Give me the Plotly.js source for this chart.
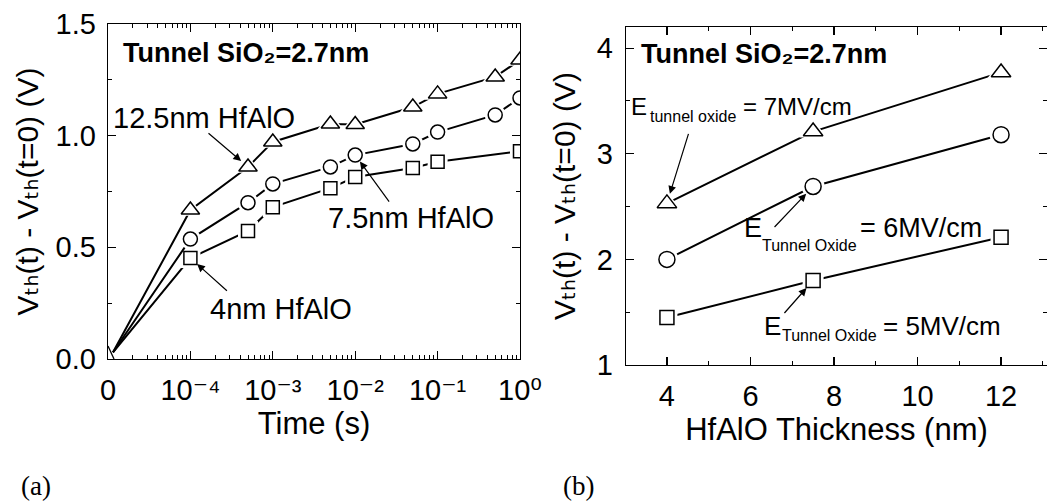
<!DOCTYPE html>
<html><head><meta charset="utf-8">
<script src="https://cdn.plot.ly/plotly-3.0.1.min.js"></script>
<style>html,body{margin:0;padding:0;background:#fff;}#chart{width:1047px;height:503px;}</style>
</head><body><div id="chart"></div>
<script>
// ---------- Panel (a): Vth shift vs time ----------
const timeS   = [0, 1e-4, 5e-4, 1e-3, 5e-3, 1e-2, 5e-2, 1e-1, 5e-1, 1];
const dVth125 = [0.03, 0.667, 0.86, 0.972, 1.052, 1.05, 1.128, 1.187, 1.263, 1.339];
const dVth75  = [0.03, 0.537, 0.70, 0.784, 0.86, 0.913, 0.963, 1.016, 1.093, 1.169];
const time4   = [0, 1e-4, 5e-4, 1e-3, 5e-3, 1e-2, 5e-2, 1e-1, 1];
const dVth4   = [0.03, 0.452, 0.573, 0.68, 0.765, 0.815, 0.855, 0.883, 0.93];
const timeTicks     = [0, 1e-4, 1e-3, 1e-2, 1e-1, 1];
const timeTickText  = ['0', '10\u207B\u2074', '10\u207B\u00B3', '10\u207B\u00B2', '10\u207B\u00B9', '10\u2070'];
// ---------- Panel (b): Vth shift vs HfAlO thickness ----------
const thickness = [4, 7.5, 12];
const dVthE7 = [2.53, 3.21, 3.77];
const dVthE6 = [2.0, 2.69, 3.18];
const dVthE5 = [1.45, 1.80, 2.21];

// t = 0 is drawn at the left end of the (broken) log axis
const T0_TICK = 1e-5, T0_POINT = 1.15e-5;
const toAxis = t => (t === 0 ? T0_POINT : t);
const toTick = t => (t === 0 ? T0_TICK : t);

const W = 1047, H = 503;
const px = v => v / W, py = v => 1 - v / H;
const FONT = 'Liberation Sans, Arial, Helvetica, DejaVu Sans, sans-serif';
const SERIF = 'Liberation Serif, Times New Roman, serif';
const VTH_TITLE = 'V\u209C\u2095(t) - V\u209C\u2095(t=0) (V)';
const BOX_TITLE = '<b>Tunnel SiO\u2082=2.7nm</b>';

function series(x, y, symbol, size, xa, ya, skipFirst) {
  const mx = skipFirst ? x.slice(1) : x, my = skipFirst ? y.slice(1) : y;
  return [
    {x: x, y: y, xaxis: xa, yaxis: ya, mode: 'lines', line: {color: '#000', width: 2}, hoverinfo: 'skip'},
    {x: mx, y: my, xaxis: xa, yaxis: ya, mode: 'markers', hoverinfo: 'skip',
     marker: {symbol: symbol, size: size + 7, color: '#fff', line: {width: 0}}},
    {x: mx, y: my, xaxis: xa, yaxis: ya, mode: 'markers',
     marker: {symbol: symbol, size: size, color: '#fff', line: {color: '#000', width: 1.5}}}
  ];
}

const tA = timeS.map(toAxis), t4A = time4.map(toAxis);
const data = [].concat(
  series(t4A, dVth4, 'square', 13, 'x', 'y', true),
  series(tA, dVth75, 'circle', 14, 'x', 'y', true),
  series(tA, dVth125, 'triangle-up', 16, 'x', 'y', true),
  series(thickness, dVthE5, 'square', 14, 'x2', 'y2', false),
  series(thickness, dVthE6, 'circle', 16, 'x2', 'y2', false),
  series(thickness, dVthE7, 'triangle-up', 17, 'x2', 'y2', false)
);

// minor tick positions of the log axis (2..9 in each decade)
const minorLog = [];
for (let e = -5; e < 0; e++) for (let d = 2; d <= 9; d++) minorLog.push(d * Math.pow(10, e));

const tickFont = {family: FONT, size: 29, color: '#000'};
const axBase = {showline: true, linecolor: '#000', linewidth: 1.3, mirror: 'ticks', ticks: 'inside',
  tickcolor: '#000', tickwidth: 1.2, ticklen: 8, showgrid: false, zeroline: false,
  tickfont: tickFont, automargin: false};

const layout = {
  width: W, height: H, margin: {l: 0, r: 0, t: 0, b: 0},
  paper_bgcolor: '#fff', plot_bgcolor: '#fff', showlegend: false,
  font: {family: FONT, size: 28, color: '#000'},
  xaxis: Object.assign({}, axBase, {
    type: 'log', domain: [px(108), px(520)], range: [-5, 0], anchor: 'y',
    tickmode: 'array', tickvals: timeTicks.map(toTick), ticktext: timeTickText,
    minor: {tickmode: 'array', tickvals: minorLog, ticks: 'inside', ticklen: 4, tickcolor: '#000', tickwidth: 1},
    ticklabelstandoff: 5,
    title: {text: 'Time (s)', font: {family: FONT, size: 31, color: '#000'}, standoff: 3}
  }),
  yaxis: Object.assign({}, axBase, {
    domain: [py(359), py(24)], range: [0, 1.5], anchor: 'x',
    tickmode: 'linear', tick0: 0, dtick: 0.5, tickformat: '.1f',
    minor: {dtick: 0.25, ticks: 'inside', ticklen: 4, tickcolor: '#000', tickwidth: 1},
    ticklabelstandoff: 5,
    title: {text: VTH_TITLE, font: {family: FONT, size: 30, color: '#000'}, standoff: 8}
  }),
  xaxis2: Object.assign({}, axBase, {
    domain: [px(626), 1], range: [3.02, 13.1], anchor: 'y2',
    tickmode: 'linear', tick0: 0, dtick: 2,
    minor: {dtick: 1, ticks: 'inside', ticklen: 4, tickcolor: '#000', tickwidth: 1},
    ticklabelstandoff: 5,
    title: {text: 'HfAlO Thickness (nm)', font: {family: FONT, size: 31, color: '#000'}, standoff: 3}
  }),
  yaxis2: Object.assign({}, axBase, {
    domain: [py(365), py(27)], range: [1, 4.2], anchor: 'x2',
    tickmode: 'linear', tick0: 0, dtick: 1,
    minor: {dtick: 0.5, ticks: 'inside', ticklen: 4, tickcolor: '#000', tickwidth: 1},
    ticklabelstandoff: 6,
    title: {text: VTH_TITLE, font: {family: FONT, size: 30, color: '#000'}, standoff: 12}
  }),
  shapes: [
    {type: 'line', xref: 'x domain', yref: 'y domain', x0: 0, y0: 13 / 335, x1: 6 / 412, y1: 0,
     line: {color: '#000', width: 1.3}}
  ],
  annotations: []
};

function label(text, x, yTop, size, family) {
  return {text: text, xref: 'paper', yref: 'paper', x: px(x), y: py(yTop),
    xanchor: 'left', yanchor: 'top', showarrow: false, borderpad: 0,
    font: {family: family || FONT, size: size, color: '#000'}};
}
function arrow(xa, ya, x, y, ax, ay, standoff) {
  return {xref: xa, yref: ya, x: x, y: y, ax: ax, ay: ay, axref: 'pixel', ayref: 'pixel',
    text: '', showarrow: true, arrowhead: 2, arrowsize: 1.3, arrowwidth: 1.2, arrowcolor: '#000', standoff: standoff};
}

layout.annotations.push(
  label(BOX_TITLE, 122, 37, 27),
  label('12.5nm HfAlO', 112, 101, 29),
  label('7.5nm HfAlO', 327, 201, 29),
  label('4nm HfAlO', 209, 292, 29),
  label(BOX_TITLE, 640, 37.5, 27),
  // E_tunnel oxide = 7MV/cm
  label('E', 630, 92, 24), label('tunnel oxide', 649, 107, 16), label('= 7MV/cm', 742, 92, 24),
  // E_Tunnel Oxide = 6MV/cm
  label('E', 743, 212, 27), label('Tunnel Oxide', 761, 235.5, 16), label('= 6MV/cm', 859, 212, 27),
  // E_Tunnel Oxide = 5MV/cm
  label('E', 763, 310, 26), label('Tunnel Oxide', 781, 325.5, 16), label('= 5MV/cm', 882, 310, 26),
  label('(a)', 20, 469.6, 27, SERIF),
  label('(b)', 562, 469.6, 27, SERIF),
  arrow('x', 'y', Math.log10(timeS[2]), dVth125[2], -41, -35, 9),
  arrow('x', 'y', Math.log10(timeS[5]), dVth75[5], 35, 48, 8),
  arrow('x', 'y', Math.log10(time4[1]), dVth4[1], 38, 34, 9),
  arrow('x2', 'y2', thickness[0], dVthE7[0], 22, -71, 10),
  arrow('x2', 'y2', thickness[1], dVthE6[1], -40, 42, 10),
  arrow('x2', 'y2', thickness[1], dVthE5[1], -30, 34, 10)
);

Plotly.newPlot('chart', data, layout, {staticPlot: true, displayModeBar: false});
</script>
</body></html>
